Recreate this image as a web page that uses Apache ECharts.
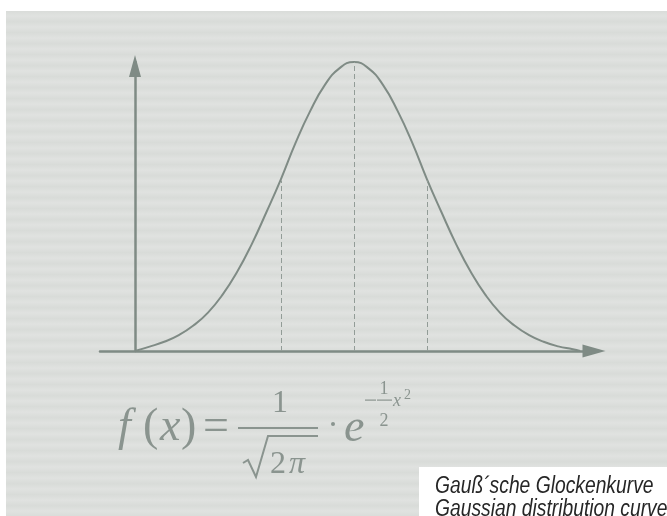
<!DOCTYPE html>
<html>
<head>
<meta charset="utf-8">
<script src="https://cdn.jsdelivr.net/npm/echarts@6/dist/echarts.min.js"></script>
<style>
  html, body { margin: 0; padding: 0; background: #ffffff; }
  #paper {
    position: absolute; left: 6px; top: 11px; width: 661px; height: 505px;
    background: repeating-linear-gradient(180deg, #d9dcd9 0px, #e0e2e0 5px, #d8dbd8 11px);
  }
  #chart { position: absolute; left: 0; top: 0; width: 667px; height: 516px; }
</style>
</head>
<body>
<div id="paper"></div>
<div id="chart"></div>
<script>
// x in standard deviations, y relative to the peak height
const xValues = [-3, -2.8, -2.6, -2.4, -2.2, -2, -1.8, -1.6, -1.4, -1.2, -1, -0.8, -0.6, -0.4, -0.2, 0,
  0.2, 0.4, 0.6, 0.8, 1, 1.2, 1.4, 1.6, 1.8, 2, 2.2, 2.4, 2.6, 2.8, 3, 3.1]
const yValues = [0, 0.015, 0.032, 0.055, 0.088, 0.133, 0.195, 0.274, 0.37, 0.48, 0.595, 0.72, 0.83, 0.92, 0.978, 1,
  0.978, 0.92, 0.83, 0.72, 0.595, 0.48, 0.37, 0.274, 0.195, 0.133, 0.088, 0.055, 0.032, 0.016, 0.006, 0]
// dashed guides: [x, top]
const guideLines = [[-1, 0.59], [0, 1], [1, 0.59]]
const captionLines = ['Gauß´sche Glockenkurve', 'Gaussian distribution curve']

const ink = '#7f8b85'
const formulaInk = '#8a948f'
const serif = "'Liberation Serif', 'DejaVu Serif', serif"
const sans = "'Liberation Sans', Arial, sans-serif"

const chart = echarts.init(document.getElementById('chart'))

// place text by its baseline
function txt(text, x, baseline, size, opts) {
  return {
    type: 'text',
    x: x,
    y: baseline + 0.2 * size,
    silent: true,
    style: Object.assign({
      text: text,
      fontFamily: serif,
      fontSize: size,
      fill: formulaInk,
      verticalAlign: 'bottom'
    }, opts || {})
  }
}

chart.setOption({
  backgroundColor: 'transparent',
  animation: false,
  grid: { left: 100, right: 73, top: 62, bottom: 165 },
  xAxis: {
    type: 'value',
    min: -3.48,
    max: 3.29,
    axisLine: {
      onZero: false,
      symbol: ['none', 'triangle'],
      symbolSize: [13, 23],
      lineStyle: { color: ink, width: 2.5 }
    },
    axisTick: { show: false },
    axisLabel: { show: false },
    splitLine: { show: false }
  },
  yAxis: {
    type: 'value',
    min: 0,
    max: 1,
    offset: -35,
    axisLine: {
      show: true,
      onZero: false,
      symbol: ['none', 'triangle'],
      symbolSize: [12, 22],
      symbolOffset: [0, -4],
      lineStyle: { color: ink, width: 2.5 }
    },
    axisTick: { show: false },
    axisLabel: { show: false },
    splitLine: { show: false }
  },
  series: [
    {
      type: 'line',
      data: xValues.map((x, i) => [x, yValues[i]]),
      smooth: true,
      showSymbol: false,
      clip: false,
      lineStyle: { color: ink, width: 2 },
      markLine: {
        silent: true,
        symbol: 'none',
        label: { show: false },
        lineStyle: { color: '#929c97', width: 1, type: [5, 3] },
        data: guideLines.map(g => [{ coord: [g[0], 0] }, { coord: [g[0], g[1]] }])
      },
      z: 3
    }
  ],
  graphic: [
    // formula
    txt('f', 118, 442, 46, { fontStyle: 'italic' }),
    txt('(', 143, 442, 46),
    txt('x', 160, 442, 46, { fontStyle: 'italic' }),
    txt(')', 181, 442, 46),
    txt('=', 203, 442, 46),
    txt('1', 280, 413, 32, { align: 'center' }),
    { type: 'rect', silent: true, shape: { x: 238, y: 427, width: 80, height: 2 }, style: { fill: formulaInk } },
    {
      type: 'polyline', silent: true,
      shape: { points: [[243, 463], [248, 460], [256, 477], [268, 436], [318, 436]] },
      style: { stroke: formulaInk, lineWidth: 2, fill: null }
    },
    txt('2', 270, 474, 32),
    txt('π', 289, 474, 32, { fontStyle: 'italic' }),
    { type: 'circle', silent: true, shape: { cx: 333, cy: 424, r: 2 }, style: { fill: formulaInk } },
    txt('e', 344, 443, 46, { fontStyle: 'italic' }),
    { type: 'rect', silent: true, shape: { x: 365, y: 399.5, width: 11, height: 1.2 }, style: { fill: formulaInk } },
    { type: 'rect', silent: true, shape: { x: 377, y: 399.5, width: 15, height: 1.2 }, style: { fill: formulaInk } },
    txt('1', 384, 395, 18, { align: 'center' }),
    txt('2', 384, 427, 18, { align: 'center' }),
    txt('x', 393, 407, 18, { fontStyle: 'italic' }),
    txt('2', 404, 400, 14),
    // caption box
    { type: 'rect', silent: true, shape: { x: 419, y: 467, width: 248, height: 49 }, style: { fill: '#ffffff' } },
    {
      type: 'text', silent: true, x: 435, y: 475, scaleX: 0.82,
      style: {
        text: captionLines.join('\n'),
        fontFamily: sans,
        fontStyle: 'italic',
        fontSize: 23.5,
        lineHeight: 23,
        fill: '#262626'
      }
    }
  ]
})
</script>
</body>
</html>
